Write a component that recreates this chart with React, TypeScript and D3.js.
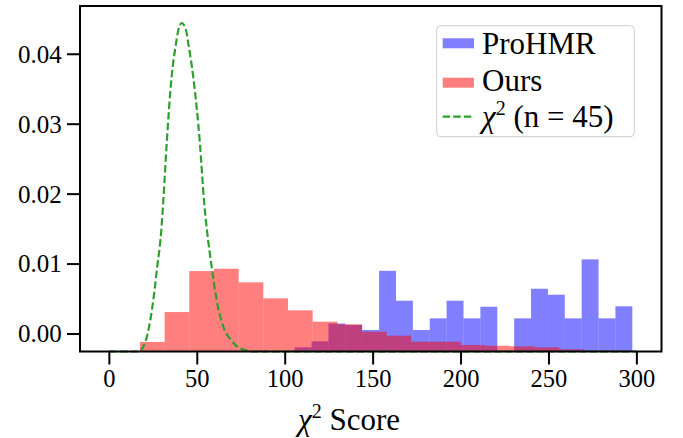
import React from "react";
import * as d3 from "d3";

// ---- data ----
const X_TICKS = [0, 50, 100, 150, 200, 250, 300];
const Y_TICKS = [0, 0.01, 0.02, 0.03, 0.04];

const OURS_START = 17.4;
const OURS_BIN_WIDTH = 14.03;
const oursDensity = [
  -0.00114, 0.00314, 0.009, 0.00933, 0.00739, 0.0051, 0.00339, 0.00176, 0.00139, 0.00033,
  -0.00024, -0.0011, -0.0011, -0.00157, -0.00167, -0.00176, -0.0019, -0.00219, -0.00236, -0.00239,
];

const PROHMR_START = 105.4;
const PROHMR_BIN_WIDTH = 9.6;
const prohmrDensity = [
  -0.0019, -0.00104, 0.0015, 0.00129, 0.00057, 0.00904, 0.00476, 0.00057, 0.00224, 0.00476,
  0.00224, 0.0039, -0.0025, 0.00224, 0.00647, 0.00562, 0.00224, 0.01067, 0.00224, 0.00396,
];

const chiX = [0, 10, 16.4, 19.3, 21.8, 25.0, 27.2, 29.4, 30.7, 32.6, 35.4, 37.9, 39.2, 41.1, 43.6, 44.9, 47.7, 51.5, 53.8, 55.7, 58.2, 61.0, 64.8, 69.2, 74.3, 81.9, 90, 300];
const chiY = [-0.0025, -0.0025, -0.0025, -0.00181, 0.0001, 0.00486, 0.00961, 0.01439, 0.01914, 0.02724, 0.03676, 0.04153, 0.04343, 0.04447, 0.04343, 0.04153, 0.03676, 0.02724, 0.01914, 0.01439, 0.00961, 0.00486, 0.00104, -0.00086, -0.00204, -0.0025, -0.0025, -0.0025];

const LEGEND_LABELS = ["ProHMR", "Ours"];

// ---- layout ----
const W = 683;
const H = 438;
const LEFT = 80;
const RIGHT = 661.5;
const TOP = 6;
const BOTTOM = 351.5;

const BLUE = "#0000ff";
const RED = "#ff0000";
const GREEN = "#2ca02c";
const FONT = "'Liberation Serif', 'Times New Roman', serif";

export default function App() {
  const x = d3.scaleLinear().domain([-16.7, 314.0]).range([LEFT, RIGHT]);
  const y = d3.scaleLinear().domain([-0.0025, 0.0469]).range([BOTTOM, TOP]);
  const y0 = y.domain()[0];

  const line = d3
    .line<number>()
    .x((_, i) => x(chiX[i]))
    .y((d) => y(d))
    .curve(d3.curveMonotoneX);

  const bars = (vals: number[], start: number, w: number, color: string, key: string) =>
    vals.map((v, i) => {
      const x0 = x(start + i * w);
      const x1 = x(start + (i + 1) * w);
      const top = y(Math.max(v, y0));
      return (
        <rect
          key={key + i}
          x={x0}
          y={top}
          width={x1 - x0}
          height={y(y0) - top}
          fill={color}
          fillOpacity={0.5}
        />
      );
    });

  return (
    <svg
      width={W}
      height={H}
      style={{ position: "absolute", left: 0, top: 0, background: "#fff" }}
      fontFamily={FONT}
    >
      <rect x={0} y={0} width={W} height={H} fill="#fff" />
      <g>{bars(prohmrDensity, PROHMR_START, PROHMR_BIN_WIDTH, BLUE, "b")}</g>
      <g>{bars(oursDensity, OURS_START, OURS_BIN_WIDTH, RED, "r")}</g>
      <path
        d={line(chiY) || ""}
        fill="none"
        stroke={GREEN}
        strokeWidth={2.2}
        strokeDasharray="7.4 3.2"
      />

      {/* frame */}
      <rect
        x={LEFT}
        y={TOP}
        width={RIGHT - LEFT}
        height={BOTTOM - TOP}
        fill="none"
        stroke="#000"
        strokeWidth={2}
      />

      {/* x ticks */}
      {X_TICKS.map((t) => (
        <g key={"xt" + t}>
          <line x1={x(t)} x2={x(t)} y1={BOTTOM} y2={BOTTOM + 13} stroke="#000" strokeWidth={2} />
          <text x={x(t)} y={387.3} fontSize={24.5} textAnchor="middle" fill="#000">
            {t}
          </text>
        </g>
      ))}

      {/* y ticks */}
      {Y_TICKS.map((t) => (
        <g key={"yt" + t}>
          <line x1={LEFT - 13} x2={LEFT} y1={y(t)} y2={y(t)} stroke="#000" strokeWidth={2} />
          <text x={61.7} y={y(t) + 8.4} fontSize={25} textAnchor="end" fill="#000">
            {d3.format(".2f")(t)}
          </text>
        </g>
      ))}

      {/* x label */}
      <text x={349} y={430} fontSize={31} textAnchor="middle" fill="#000">
        <tspan fontStyle="italic">χ</tspan>
        <tspan fontSize={20} dy={-12}>2</tspan>
        <tspan dy={12}> Score</tspan>
      </text>

      {/* legend */}
      <g>
        <rect
          x={436.7}
          y={25.7}
          width={197.6}
          height={111}
          rx={4}
          fill="#fff"
          fillOpacity={0.8}
          stroke="#cccccc"
          strokeWidth={1}
        />
        <rect x={442.7} y={38.3} width={31.3} height={10} fill={BLUE} fillOpacity={0.5} />
        <text x={482} y={53.5} fontSize={31} fill="#000">
          {LEGEND_LABELS[0]}
        </text>
        <rect x={442.7} y={77.7} width={31.3} height={10} fill={RED} fillOpacity={0.5} />
        <text x={482} y={90.5} fontSize={31} fill="#000">
          {LEGEND_LABELS[1]}
        </text>
        <line
          x1={442.7}
          x2={474}
          y1={116.7}
          y2={116.7}
          stroke={GREEN}
          strokeWidth={2.2}
          strokeDasharray="7.4 3.2"
        />
        <text x={482} y={127} fontSize={31} fill="#000">
          <tspan fontStyle="italic">χ</tspan>
          <tspan fontSize={20} dy={-12}>2</tspan>
          <tspan dy={12}> (n = 45)</tspan>
        </text>
      </g>
    </svg>
  );
}
